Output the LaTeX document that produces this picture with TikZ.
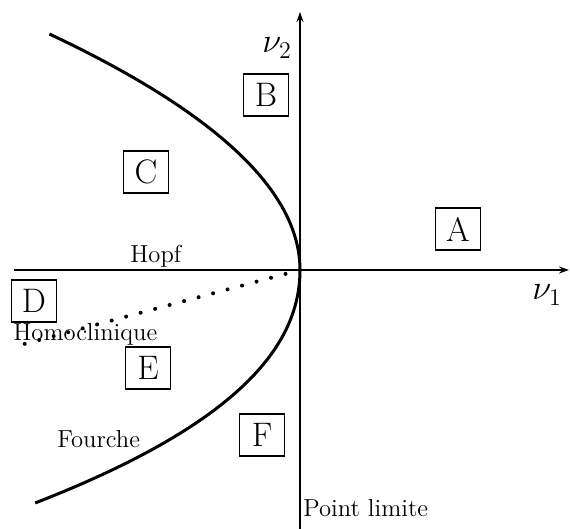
\documentclass[tikz,border=0pt]{standalone}
\usepackage{fontspec}
\usepackage{amsmath,amssymb}
\usepackage{tikz}
\usetikzlibrary{arrows.meta}
\tikzset{
  region/.style={draw,line width=0.7pt,inner sep=0pt,minimum width=22.5pt,minimum height=21pt,font=\fontsize{17}{19}\selectfont},
  lbl/.style={inner sep=0pt,anchor=base west,font=\fontsize{12.3}{14}\selectfont},
  axlbl/.style={inner sep=0pt,anchor=base west,font=\LARGE},
  axis/.style={line width=1pt,-{Stealth[length=5pt,width=3.5pt]}},
  branch/.style={line width=1.5pt},
  homocl/.style={line width=2pt,line cap=round,dash pattern=on 0pt off 7.5pt}
}

\begin{document}
\begin{tikzpicture}[x=5pt,y=5pt]
\useasboundingbox (-30,-25.9) rectangle (27,27);
% axes
\coordinate (O) at (0,0);
\coordinate (xl) at (-28.6,0);
\coordinate (xr) at (26.9,0);
\coordinate (yb) at (0,-25.9);
\coordinate (yt) at (0,25.8);
\coordinate (hl) at (-28.7,-7.7);
\draw[axis] (xl) -- (xr);
\draw[axis] (yb) -- (yt);
% bifurcation curves
\draw[branch] plot[domain=23.6:0,samples=60] ({-0.045*\x*\x},\x)
  -- plot[domain=0:-23.3,samples=60] ({-(0.036+0.00055*abs(\x))*\x*\x},\x);
\draw[homocl] (O) -- (hl);
% regions
\node[region] (A) at (15.8,4.1) {A};
\node[region] (B) at (-3.4,17.5) {B};
\node[region] (C) at (-15.4,9.8) {C};
\node[region] (D) at (-26.6,-3.1) {D};
\node[region] (E) at (-15.2,-9.8) {E};
\node[region] (F) at (-3.8,-16.5) {F};
% labels
\node[lbl] (hopf) at (-17,0.7) {Hopf};
\node[lbl] (homo) at (-28.7,-7.1) {Homoclinique};
\node[lbl] (fourche) at (-24.3,-17.8) {Fourche};
\node[lbl] (plim) at (0.3,-24.7) {Point limite};
\node[axlbl] (nu2) at (-3.8,21.7) {$\nu_2$};
\node[axlbl] (nu1) at (23.2,-3.0) {$\nu_1$};
\end{tikzpicture}
\end{document}
